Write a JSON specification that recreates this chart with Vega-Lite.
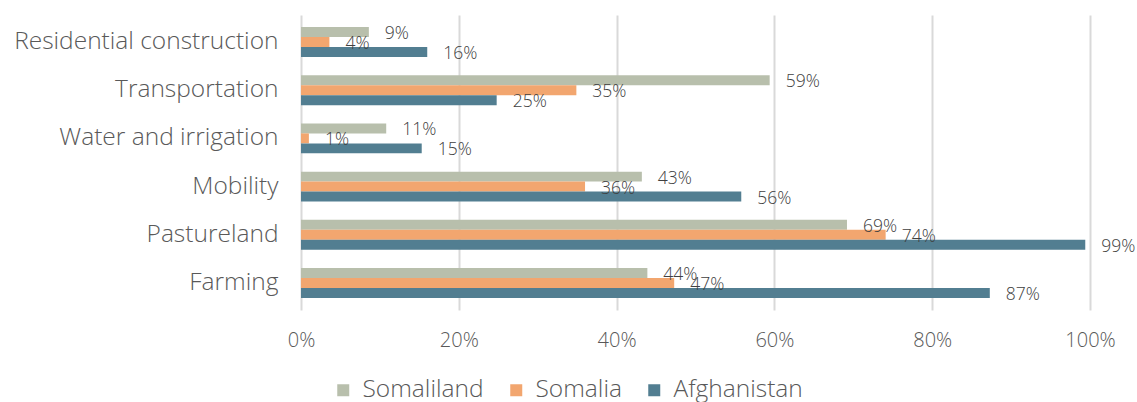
{
  "$schema": "https://vega.github.io/schema/vega-lite/v6.json",
  "width": 789,
  "height": 295,
  "autosize": {"type": "none"},
  "padding": {"left": 301, "top": 15, "right": 47, "bottom": 92},
  "config": {
    "view": {"stroke": null},
    "font": "Open Sans",
    "text": {"font": "Open Sans"}
  },
  "data": {
    "values": [
      {"category": "Residential construction", "country": "Somaliland", "value": 0.086},
      {"category": "Residential construction", "country": "Somalia", "value": 0.036},
      {"category": "Residential construction", "country": "Afghanistan", "value": 0.16},
      {"category": "Transportation", "country": "Somaliland", "value": 0.594},
      {"category": "Transportation", "country": "Somalia", "value": 0.349},
      {"category": "Transportation", "country": "Afghanistan", "value": 0.248},
      {"category": "Water and irrigation", "country": "Somaliland", "value": 0.108},
      {"category": "Water and irrigation", "country": "Somalia", "value": 0.01},
      {"category": "Water and irrigation", "country": "Afghanistan", "value": 0.153},
      {"category": "Mobility", "country": "Somaliland", "value": 0.432},
      {"category": "Mobility", "country": "Somalia", "value": 0.36},
      {"category": "Mobility", "country": "Afghanistan", "value": 0.558},
      {"category": "Pastureland", "country": "Somaliland", "value": 0.692},
      {"category": "Pastureland", "country": "Somalia", "value": 0.741},
      {"category": "Pastureland", "country": "Afghanistan", "value": 0.994},
      {"category": "Farming", "country": "Somaliland", "value": 0.439},
      {"category": "Farming", "country": "Somalia", "value": 0.473},
      {"category": "Farming", "country": "Afghanistan", "value": 0.873}
    ]
  },
  "encoding": {
    "y": {
      "field": "category",
      "type": "nominal",
      "sort": ["Residential construction", "Transportation", "Water and irrigation", "Mobility", "Pastureland", "Farming"],
      "scale": {"paddingInner": 0.38, "paddingOuter": 0.25},
      "axis": {
        "title": null,
        "domain": false,
        "ticks": false,
        "labelFontSize": 24.5,
        "labelColor": "#595959",
        "labelPadding": 23,
        "labelLimit": 400,
        "labelFont": "Open Sans",
        "labelFontWeight": 300
      }
    },
    "yOffset": {
      "field": "country",
      "type": "nominal",
      "sort": ["Somaliland", "Somalia", "Afghanistan"]
    },
    "x": {
      "field": "value",
      "type": "quantitative",
      "scale": {"domain": [0, 1]},
      "axis": {
        "title": null,
        "values": [0, 0.2, 0.4, 0.6, 0.8, 1],
        "format": ".0%",
        "grid": true,
        "gridColor": "#D9D9D9",
        "gridWidth": 2,
        "domain": false,
        "ticks": false,
        "labelFlush": false,
        "labelFontSize": 20,
        "labelColor": "#595959",
        "labelPadding": 20,
        "labelFont": "Open Sans",
        "labelFontWeight": 300
      }
    }
  },
  "layer": [
    {
      "mark": {"type": "bar"},
      "encoding": {
        "color": {
          "field": "country",
          "type": "nominal",
          "sort": ["Somaliland", "Somalia", "Afghanistan"],
          "scale": {
            "domain": ["Somaliland", "Somalia", "Afghanistan"],
            "range": ["#B8BFAC", "#F2A66F", "#527E91"]
          },
          "legend": {
            "title": null,
            "orient": "none",
            "direction": "horizontal",
            "gridAlign": "none",
            "legendX": 30,
            "legendY": 363,
            "symbolType": "square",
            "symbolSize": 144,
            "symbolStrokeWidth": 0,
            "labelFontSize": 24.5,
            "labelColor": "#595959",
            "labelFont": "Open Sans",
            "labelFontWeight": 300,
            "labelOffset": 7,
            "columnPadding": 20
          }
        }
      }
    },
    {
      "mark": {
        "type": "text",
        "align": "left",
        "baseline": "middle",
        "dx": 16,
        "dy": 2,
        "fontSize": 17.5,
        "color": "#404040",
        "font": "Open Sans",
        "fontWeight": 300
      },
      "encoding": {
        "text": {"field": "value", "type": "quantitative", "format": ".0%"}
      }
    }
  ]
}
